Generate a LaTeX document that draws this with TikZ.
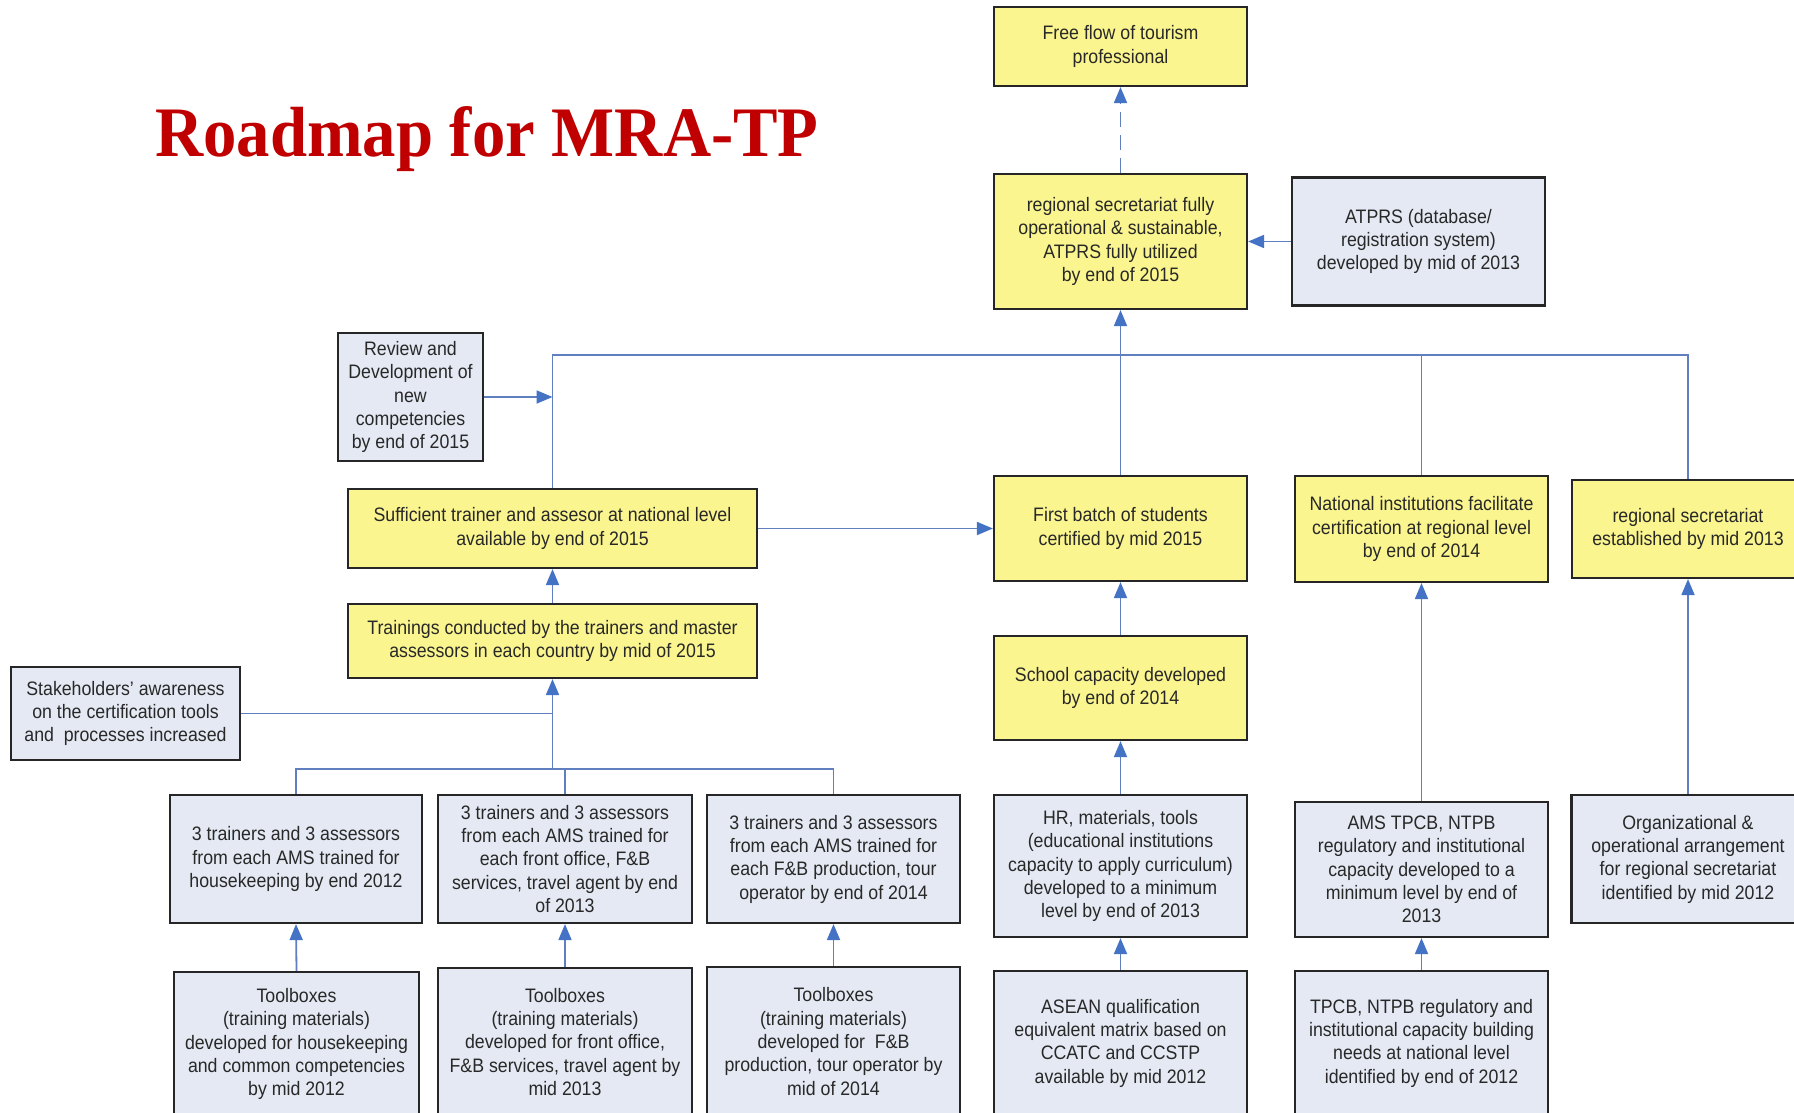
\documentclass[tikz,border=0pt]{standalone}
\usepackage{fontspec}
\setmainfont{Liberation Sans}[FakeStretch=0.91]
\newfontfamily\titlefont{Liberation Serif}[FakeStretch=0.94]
\usetikzlibrary{arrows.meta}
\definecolor{goalfill}{RGB}{250,245,142}
\definecolor{stepfill}{RGB}{228,233,243}
\definecolor{boxline}{RGB}{38,38,38}
\definecolor{linkblue}{RGB}{96,127,190}
\definecolor{tipblue}{RGB}{68,114,196}
\definecolor{boxtext}{RGB}{40,40,40}
\definecolor{titlered}{RGB}{192,0,0}
\begin{document}
\begin{tikzpicture}[x=1pt,y=-1pt,
  basebox/.style={draw=boxline,line width=2.2pt,inner sep=0pt,align=center,
    text=boxtext,font=\fontsize{19.5}{23.3}\selectfont},
  goalbox/.style={basebox,fill=goalfill},
  stepbox/.style={basebox,fill=stepfill},
  link/.style={draw=linkblue,line width=1.8pt},
  arrowlink/.style={link,-{Triangle[length=16pt,width=13pt,color=tipblue]}},
  dashlink/.style={arrowlink,dash pattern=on 15pt off 8pt}]
\useasboundingbox (0,0) rectangle (1794,1113);
\clip (0,0) rectangle (1794,1113);
\fill[white] (0,0) rectangle (1794,1113);

% title
\node[anchor=base west,inner sep=0pt,text=titlered,
  font=\titlefont\bfseries\fontsize{71}{76}\selectfont] (title) at (155,157) {Roadmap for MRA-TP};

% top goals
\node[goalbox,minimum width=253,minimum height=79] (free) at (1120.5,46.5)
  {Free flow of tourism\\professional};
\node[goalbox,minimum width=253,minimum height=135] (regsec) at (1120.5,241.5)
  {regional secretariat fully\\operational \& sustainable,\\ATPRS fully utilized\\by end of 2015};
\node[stepbox,minimum width=253,minimum height=128] (atprs) at (1418.5,241.5)
  {ATPRS (database/\\registration system)\\developed by mid of 2013};

% trainer and assessor branch
\node[stepbox,minimum width=145,minimum height=128] (review) at (410.5,397)
  {Review and\\Development of\\new\\competencies\\by end of 2015};
\node[goalbox,minimum width=409,minimum height=79] (suff) at (552.5,528.5)
  {Sufficient trainer and assesor at national level\\available by end of 2015};
\node[goalbox,minimum width=409,minimum height=74] (train) at (552.5,641)
  {Trainings conducted by the trainers and master\\assessors in each country by mid of 2015};
\node[stepbox,minimum width=229,minimum height=93] (stake) at (125.5,713.5)
  {Stakeholders' awareness\\on the certification tools\\and\ \ processes increased};

% certification and secretariat branches
\node[goalbox,minimum width=253,minimum height=105] (first) at (1120.5,528.5)
  {First batch of students\\certified by mid 2015};
\node[goalbox,minimum width=253,minimum height=106] (natinst) at (1421.5,529)
  {National institutions facilitate\\certification at regional level\\by end of 2014};
\node[goalbox,minimum width=232,minimum height=98] (regest) at (1688,529)
  {regional secretariat\\established by mid 2013};
\node[goalbox,minimum width=253,minimum height=104] (school) at (1120.5,688)
  {School capacity developed\\by end of 2014};

% trained trainers row
\node[stepbox,minimum width=252,minimum height=128] (t1) at (296,859)
  {3 trainers and 3 assessors\\from each AMS trained for\\housekeeping by end 2012};
\node[stepbox,minimum width=254,minimum height=128] (t2) at (565,859)
  {3 trainers and 3 assessors\\from each AMS trained for\\each front office, F\&B\\services, travel agent by end\\of 2013};
\node[stepbox,minimum width=253,minimum height=128] (t3) at (833.5,859)
  {3 trainers and 3 assessors\\from each AMS trained for\\each F\&B production, tour\\operator by end of 2014};
\node[stepbox,minimum width=253,minimum height=142] (hr) at (1120.5,866)
  {HR, materials, tools\\(educational institutions\\capacity to apply curriculum)\\developed to a minimum\\level by end of 2013};
\node[stepbox,minimum width=253,minimum height=135] (ams) at (1421.5,869.5)
  {AMS TPCB, NTPB\\regulatory and institutional\\capacity developed to a\\minimum level by end of\\2013};
\node[stepbox,minimum width=233,minimum height=128] (org) at (1688,859)
  {Organizational \&\\operational arrangement\\for regional secretariat\\identified by mid 2012};

% foundation row
\node[stepbox,minimum width=245,minimum height=144] (tb1) at (296.5,1044)
  {Toolboxes\\(training materials)\\developed for housekeeping\\and common competencies\\by mid 2012};
\node[stepbox,minimum width=254,minimum height=148] (tb2) at (565,1042)
  {Toolboxes\\(training materials)\\developed for front office,\\F\&B services, travel agent by\\mid 2013};
\node[stepbox,minimum width=253,minimum height=149] (tb3) at (833.5,1041.5)
  {Toolboxes\\(training materials)\\developed for\ \ F\&B\\production, tour operator by\\mid of 2014};
\node[stepbox,minimum width=253,minimum height=144] (asean) at (1120.5,1043)
  {ASEAN qualification\\equivalent matrix based on\\CCATC and CCSTP\\available by mid 2012};
\node[stepbox,minimum width=253,minimum height=144] (tpcb) at (1421.5,1043)
  {TPCB, NTPB regulatory and\\institutional capacity building\\needs at national level\\identified by end of 2012};

% junction lines
\coordinate (bus) at (1120.5,355);
\coordinate (feed) at (552.5,769);

% upper connectors
\draw[dashlink] (regsec.north) -- (free.south);
\draw[arrowlink] (atprs.west) -- (regsec.east);
\draw[link] (suff.north) |- (regest.north |- bus) -- (regest.north);
\draw[link] (natinst.north) -- (natinst.north |- bus);
\draw[arrowlink] (first.north) -- (regsec.south);
\draw[arrowlink] (review.east) -- (review.east -| suff.north);
\draw[arrowlink] (suff.east) -- (first.west);
\draw[arrowlink] (train.north) -- (suff.south);

% trainer feed
\draw[link] (t1.north) |- (t3.north |- feed) -- (t3.north);
\draw[link] (t2.north) -- (t2.north |- feed);
\draw[arrowlink] (feed) -- (train.south);
\draw[link] (stake.east) -- (stake.east -| train.south);

% vertical chains
\draw[arrowlink] (tb1.north) -- (t1.south);
\draw[arrowlink] (tb2.north) -- (t2.south);
\draw[arrowlink] (tb3.north) -- (t3.south);
\draw[arrowlink] (asean.north) -- (hr.south);
\draw[arrowlink] (hr.north) -- (school.south);
\draw[arrowlink] (school.north) -- (first.south);
\draw[arrowlink] (tpcb.north) -- (ams.south);
\draw[arrowlink] (ams.north) -- (natinst.south);
\draw[arrowlink] (org.north) -- (regest.south);
\end{tikzpicture}
\end{document}
